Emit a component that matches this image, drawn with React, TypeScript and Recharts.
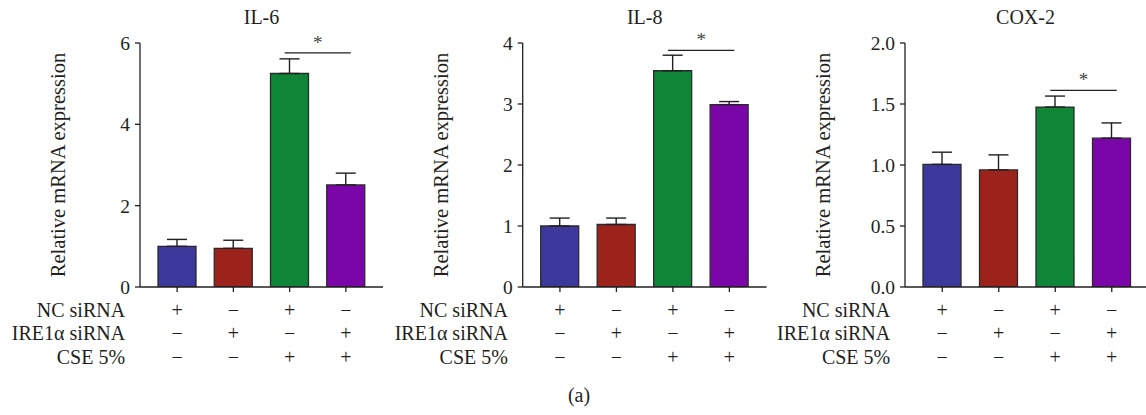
import React from 'react';
import { BarChart, Bar, XAxis, YAxis, ErrorBar, ReferenceLine, Cell } from 'recharts';

const groups = ['g1', 'g2', 'g3', 'g4'];
const ncSiRNA = ['+', '−', '+', '−'];
const ire1aSiRNA = ['−', '+', '−', '+'];
const cse5 = ['−', '−', '+', '+'];
const rowLabels = ['NC siRNA', 'IRE1α siRNA', 'CSE 5%'];
const barColors = ['#3d399c', '#9c221c', '#0f8538', '#7a06a8'];

const titles = ['IL-6', 'IL-8', 'COX-2'];
const il6Mean = [1.0, 0.95, 5.25, 2.51];
const il6Err = [0.17, 0.2, 0.36, 0.29];
const il8Mean = [1.0, 1.025, 3.545, 2.99];
const il8Err = [0.13, 0.105, 0.255, 0.05];
const cox2Mean = [1.005, 0.96, 1.475, 1.22];
const cox2Err = [0.1, 0.123, 0.09, 0.125];
const il6Ticks = [0, 2, 4, 6];
const il8Ticks = [0, 1, 2, 3, 4];
const cox2Ticks = [0, 0.5, 1, 1.5, 2];
const sigLevels = [5.755, 3.88, 1.611];
const yLabel = 'Relative mRNA expression';
const figLabel = '(a)';

const FONT = '"Liberation Serif", "Times New Roman", serif';
const INK = '#231f20';
const H = 415;
const TOP = 43;
const XAXIS_H = 128;

type PanelCfg = {
  title: string;
  means: number[];
  errs: number[];
  ticks: number[];
  sig: number;
  left: number;
  width: number;
  yw: number;
  mr: number;
  padL: number;
  padR: number;
  fmt: (v: number) => string;
};

const panels: PanelCfg[] = [
  { title: titles[0], means: il6Mean, errs: il6Err, ticks: il6Ticks, sig: sigLevels[0], left: 0, width: 390, yw: 140, mr: 7, padL: 9, padR: 9, fmt: (v) => String(v) },
  { title: titles[1], means: il8Mean, errs: il8Err, ticks: il8Ticks, sig: sigLevels[1], left: 390, width: 380, yw: 132.7, mr: 3.4, padL: 9, padR: 9, fmt: (v) => String(v) },
  { title: titles[2], means: cox2Mean, errs: cox2Err, ticks: cox2Ticks, sig: sigLevels[2], left: 770, width: 376, yw: 135, mr: 0, padL: 9, padR: 6, fmt: (v) => v.toFixed(1) },
];

const rows = [ncSiRNA, ire1aSiRNA, cse5];
const rowBaselines = [24.7, 48, 72];

const XTick = (props: any) => {
  const { x, y, index } = props;
  return (
    <g>
      {rows.map((r, i) => (
        <text key={i} x={x} y={y + rowBaselines[i]} textAnchor="middle" fontFamily={FONT} fontSize={20} fill={INK}>
          {r[index]}
        </text>
      ))}
      {index === 0 &&
        rowLabels.map((l, i) => (
          <text key={'l' + i} x={x - 52} y={y + rowBaselines[i]} textAnchor="end" fontFamily={FONT} fontSize={20} fill={INK}>
            {l}
          </text>
        ))}
    </g>
  );
};

const SigShape = (props: any) => {
  const { x1, y1, x2, y2 } = props;
  if (x1 == null) return null;
  return (
    <g>
      <line x1={x1 - 5} y1={y1} x2={x2 + 5} y2={y2} stroke={INK} strokeWidth={1.3} />
      <text x={(x1 + x2) / 2} y={y1 - 4} textAnchor="middle" fontFamily={FONT} fontSize={19} fill="#444">
        *
      </text>
    </g>
  );
};

const Panel = ({ cfg }: { cfg: PanelCfg }) => {
  const data = groups.map((g, i) => ({ name: g, value: cfg.means[i], err: [0, cfg.errs[i]] }));
  const domainMax = cfg.ticks[cfg.ticks.length - 1];
  return (
    <div style={{ position: 'absolute', left: cfg.left, top: 0, width: cfg.width, height: H }}>
      <BarChart width={cfg.width} height={H} data={data} margin={{ top: TOP, right: cfg.mr, bottom: 0, left: 0 }} barSize={38}>
        <XAxis
          dataKey="name"
          height={XAXIS_H}
          padding={{ left: cfg.padL, right: cfg.padR }}
          stroke={INK}
          strokeWidth={1.3}
          tickSize={5}
          tickMargin={0}
          tickLine={{ stroke: INK, strokeWidth: 1.3 }}
          tick={<XTick />}
          interval={0}
        />
        <YAxis
          width={cfg.yw}
          domain={[0, domainMax]}
          ticks={cfg.ticks}
          tickFormatter={cfg.fmt}
          stroke={INK}
          strokeWidth={1.3}
          tickSize={5}
          tickMargin={5}
          tick={{ fontFamily: FONT, fontSize: 19.5, fill: INK }}
          tickLine={{ stroke: INK, strokeWidth: 1.3 }}
          allowDataOverflow
          label={{
            content: (p: any) => {
              const vb = p.viewBox || {};
              const cx = vb.x + vb.width - 82;
              const cy = vb.y + vb.height / 2;
              return (
                <text x={cx} y={cy} transform={`rotate(-90 ${cx} ${cy})`} textAnchor="middle" dominantBaseline="central" fontFamily={FONT} fontSize={20.5} fill={INK}>
                  {yLabel}
                </text>
              );
            },
          }}
        />
        <Bar dataKey="value" isAnimationActive={false} stroke="#2a2a2a" strokeWidth={1.3}>
          {data.map((d, i) => (
            <Cell key={d.name} fill={barColors[i]} />
          ))}
          <ErrorBar dataKey="err" direction="y" width={10} stroke={INK} strokeWidth={1.4} isAnimationActive={false} />
        </Bar>
        <ReferenceLine
          segment={[
            { x: groups[2], y: cfg.sig },
            { x: groups[3], y: cfg.sig },
          ]}
          shape={<SigShape />}
          ifOverflow="visible"
        />
      </BarChart>
    </div>
  );
};

export default function App() {
  return (
    <div style={{ position: 'absolute', left: 0, top: 0, width: 1146, height: H, background: '#fff', overflow: 'hidden' }}>
      {panels.map((p) => (
        <Panel key={p.title} cfg={p} />
      ))}
      <svg width={1146} height={H} style={{ position: 'absolute', left: 0, top: 0, pointerEvents: 'none' }}>
        {panels.map((p) => {
          const cx = p.left + p.yw + (p.width - p.yw - p.mr) / 2;
          return (
            <text key={p.title} x={cx} y={24} textAnchor="middle" fontFamily={FONT} fontSize={20} fill={INK}>
              {p.title}
            </text>
          );
        })}
        <text x={579} y={402} textAnchor="middle" fontFamily={FONT} fontSize={20} fill={INK}>
          {figLabel}
        </text>
      </svg>
    </div>
  );
}
